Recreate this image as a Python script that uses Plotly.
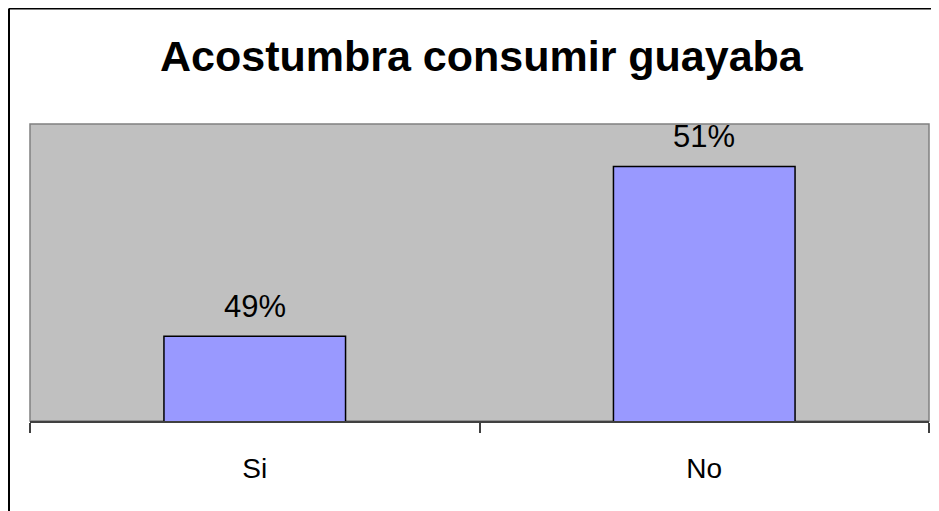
import plotly.graph_objects as go

categories = ["Si", "No"]
values = [49, 51]
labels = ["49%", "51%"]
title_text = "Acostumbra consumir guayaba"

FONT = "Arial, Liberation Sans, sans-serif"

fig = go.Figure()
fig.add_trace(go.Bar(
    x=categories, y=values,
    marker=dict(color="#9999FF", line=dict(color="#000000", width=1.5)),
    hoverinfo="skip",
))

annotations = []
for c, v, t in zip(categories, values, labels):
    annotations.append(dict(x=c, y=v, xref="x", yref="y", text=t, showarrow=False,
                            yanchor="bottom", yshift=10,
                            font=dict(family=FONT, size=31, color="#000000")))

W, H = 931, 503
L, R, T, B = 22, 10, 116, 90
pw, ph = W - L - R, H - T - B

annotations.append(dict(x=(474 - L) / pw, y=(H - B - 48) / ph, xref="paper", yref="paper",
                        text="<b>" + title_text + "</b>",
                        showarrow=False, xanchor="center", yanchor="middle",
                        font=dict(family=FONT, size=43, color="#000000")))

bx0 = (1 - L) / pw
by1 = (H - B - 0.5) / ph

fig.update_layout(
    width=W, height=H,
    margin=dict(l=L, r=R, t=T, b=B, pad=0),
    paper_bgcolor="#FFFFFF",
    plot_bgcolor="#C0C0C0",
    bargap=0.596,
    showlegend=False,
    annotations=annotations,
    shapes=[
        dict(type="rect", xref="paper", yref="paper", x0=0, x1=1, y0=0, y1=1,
             line=dict(color="#808080", width=1.5), layer="below"),
        dict(type="line", xref="paper", yref="paper", x0=bx0, x1=bx0, y0=-1, y1=by1,
             line=dict(color="#000000", width=2)),
        dict(type="line", xref="paper", yref="paper", x0=bx0, x1=1.5, y0=by1, y1=by1,
             line=dict(color="#000000", width=2)),
    ],
    xaxis=dict(
        type="category", showgrid=False, zeroline=False,
        showline=True, linecolor="#404040", linewidth=1.5,
        ticks="outside", tickson="boundaries", ticklen=10, tickcolor="#404040", tickwidth=1.5,
        tickfont=dict(family=FONT, size=28, color="#000000"),
        ticklabelstandoff=22,
    ),
    yaxis=dict(range=[48, 51.5], visible=False, showgrid=False, zeroline=False),
)

fig.write_html("out.html")
